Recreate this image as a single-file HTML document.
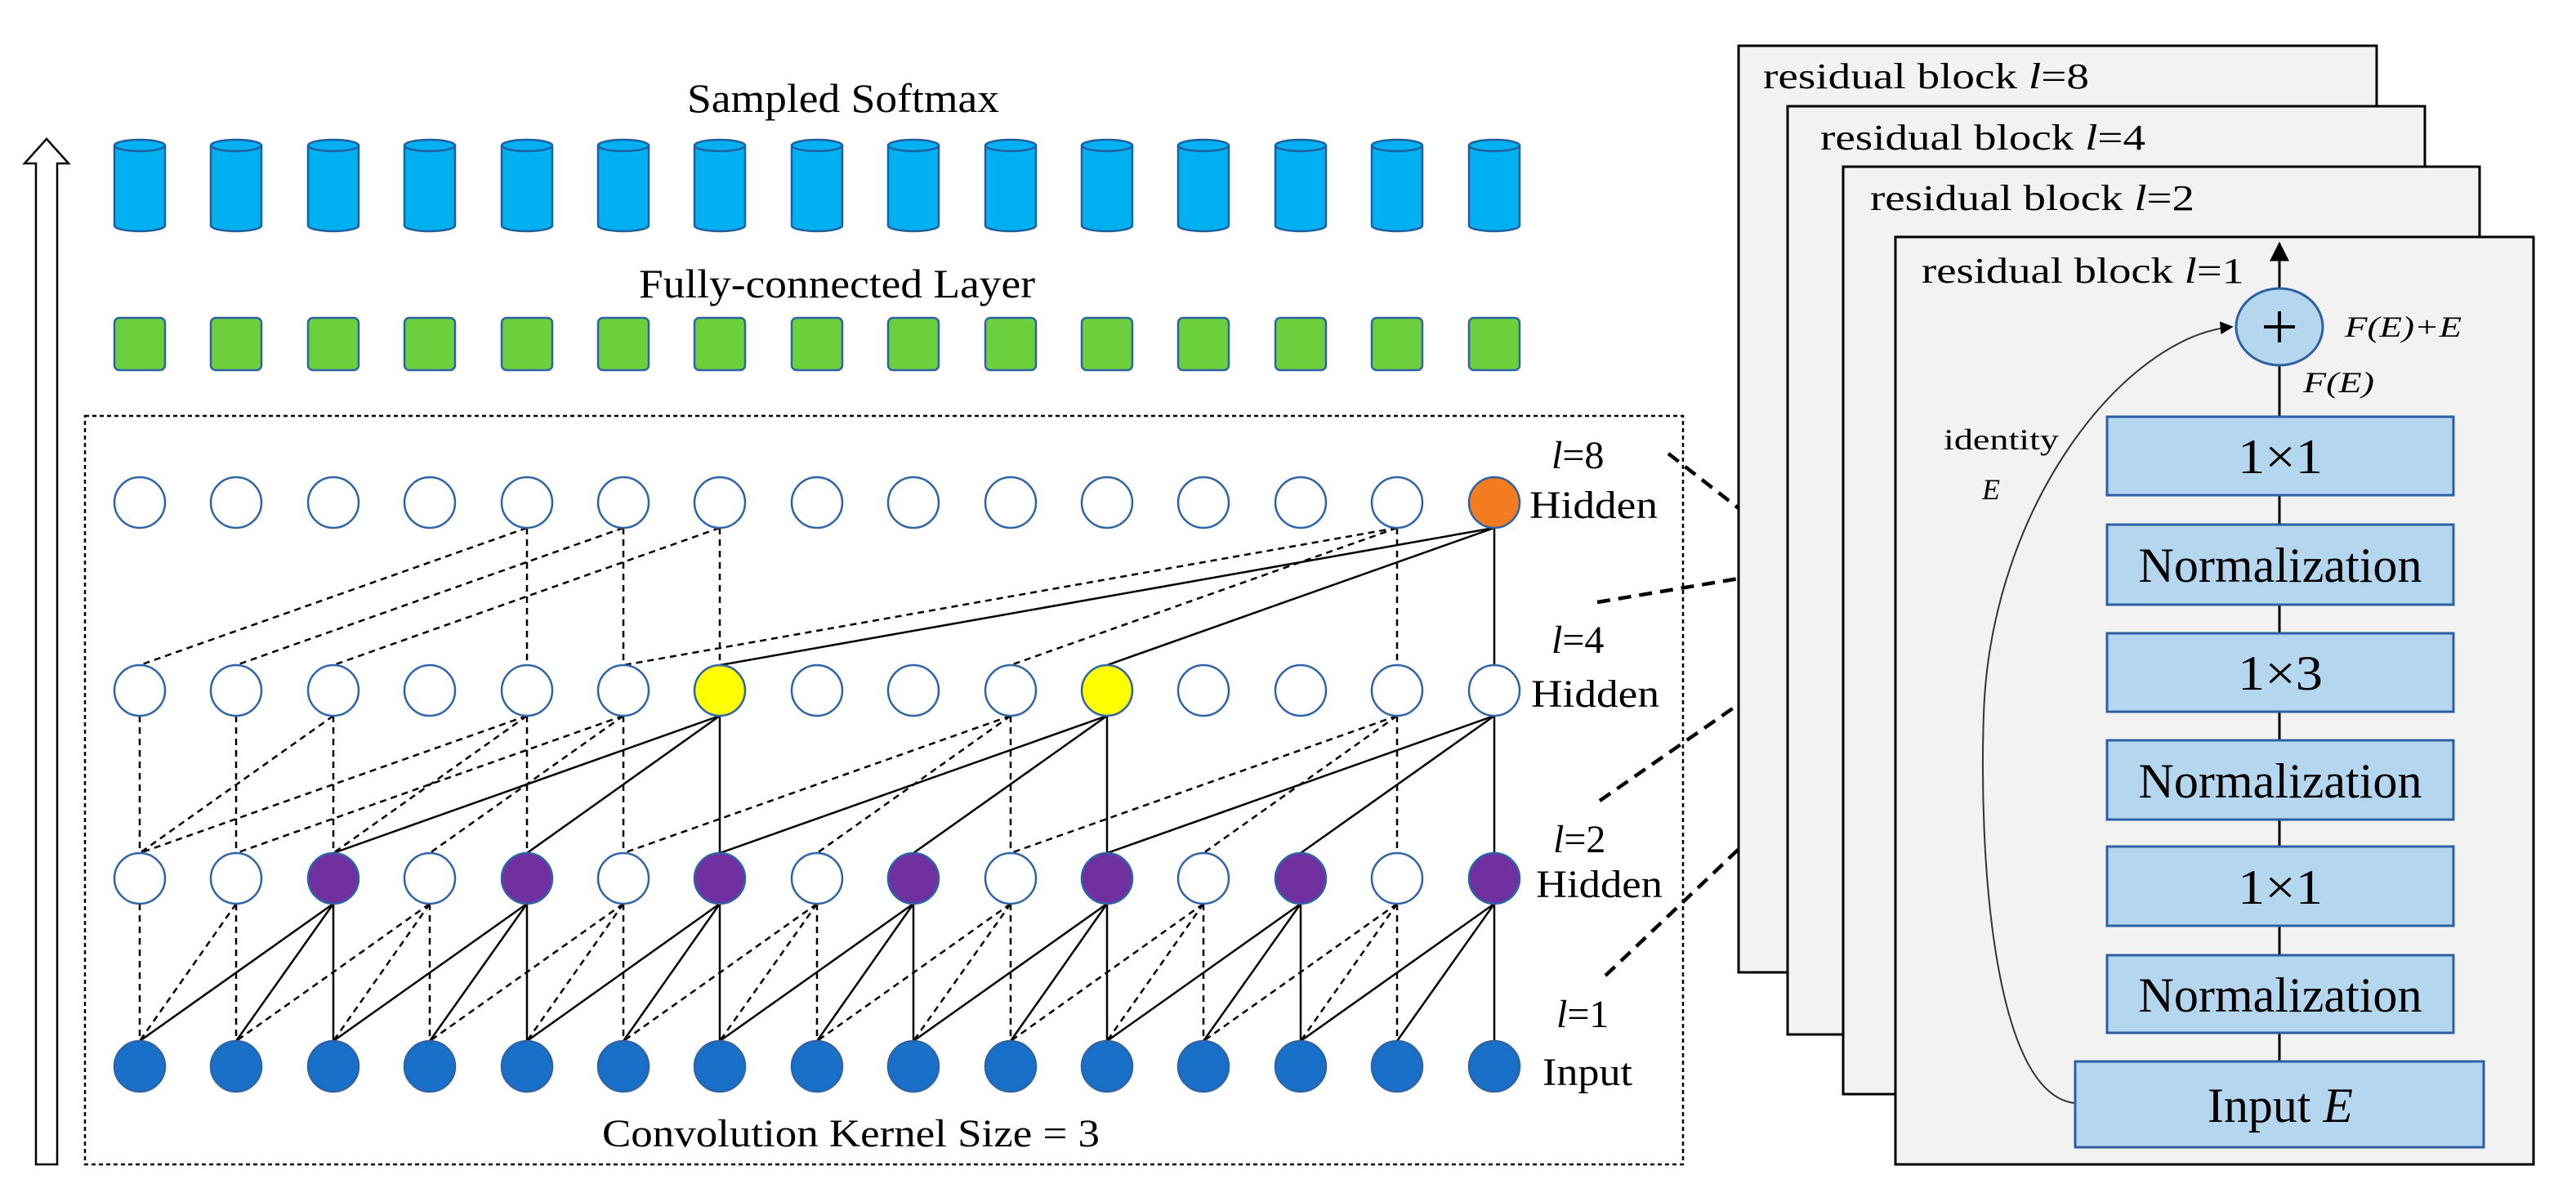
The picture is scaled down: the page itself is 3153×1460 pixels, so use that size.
<!DOCTYPE html>
<html><head><meta charset="utf-8"><style>html,body{margin:0;padding:0;background:#fff}svg{display:block}text{font-family:"Liberation Serif","DejaVu Serif",serif}</style></head>
<body>
<svg width="3153" height="1460" viewBox="0 0 3153 1460" xmlns="http://www.w3.org/2000/svg" style="font-family:'Liberation Serif',serif">
<defs>
<g id="cyl"><path d="M-31 6 L-31 104 A31 7 0 0 0 31 104 L31 6" fill="#00b0f0" stroke="#1f5fa0" stroke-width="2.5"/><ellipse cx="0" cy="6" rx="31" ry="7" fill="#00b0f0" stroke="#1f5fa0" stroke-width="2.5"/></g>
<g id="sq"><rect x="-31" y="0" width="62" height="64" rx="6" fill="#6ccf3c" stroke="#2e63a8" stroke-width="2.5"/></g>
<marker id="ah" viewBox="0 0 10 10" refX="9" refY="5" markerWidth="8" markerHeight="8" orient="auto"><path d="M0 0L10 5L0 10z" fill="#000"/></marker>
</defs>

<path d="M44 1425 L44 200 L30 200 L57 170 L84 200 L70 200 L70 1425 Z" fill="#fff" stroke="#000" stroke-width="2.5"/>

<text x="841" y="137" font-size="50" textLength="382" lengthAdjust="spacingAndGlyphs">Sampled Softmax</text>
<text x="782" y="364" font-size="50" textLength="485" lengthAdjust="spacingAndGlyphs">Fully-connected Layer</text>

<g transform="translate(0,172)">
<use href="#cyl" x="171"/><use href="#cyl" x="289"/><use href="#cyl" x="408"/><use href="#cyl" x="526"/><use href="#cyl" x="645"/><use href="#cyl" x="763"/><use href="#cyl" x="881"/><use href="#cyl" x="1000"/><use href="#cyl" x="1118"/><use href="#cyl" x="1237"/><use href="#cyl" x="1355"/><use href="#cyl" x="1473"/><use href="#cyl" x="1592"/><use href="#cyl" x="1710"/><use href="#cyl" x="1829"/>
</g>
<g transform="translate(0,389)">
<use href="#sq" x="171"/><use href="#sq" x="289"/><use href="#sq" x="408"/><use href="#sq" x="526"/><use href="#sq" x="645"/><use href="#sq" x="763"/><use href="#sq" x="881"/><use href="#sq" x="1000"/><use href="#sq" x="1118"/><use href="#sq" x="1237"/><use href="#sq" x="1355"/><use href="#sq" x="1473"/><use href="#sq" x="1592"/><use href="#sq" x="1710"/><use href="#sq" x="1829"/>
</g>

<rect x="104" y="509" width="1956" height="916" fill="none" stroke="#000" stroke-width="2.5" stroke-dasharray="5,4"/>

<g stroke="#000" stroke-width="2.5" fill="none">
<path d="M408 1106L171 1274M408 1106L289 1274M408 1106L408 1274
M645 1106L408 1274M645 1106L526 1274M645 1106L645 1274
M881 1106L645 1274M881 1106L763 1274M881 1106L881 1274
M1118 1106L881 1274M1118 1106L1000 1274M1118 1106L1118 1274
M1355 1106L1118 1274M1355 1106L1237 1274M1355 1106L1355 1274
M1592 1106L1355 1274M1592 1106L1473 1274M1592 1106L1592 1274
M1829 1106L1592 1274M1829 1106L1710 1274M1829 1106L1829 1274
M881 876L408 1044M881 876L645 1044M881 876L881 1044
M1355 876L881 1044M1355 876L1118 1044M1355 876L1355 1044
M1829 876L1355 1044M1829 876L1592 1044M1829 876L1829 1044
M1829 646L881 814M1829 646L1355 814M1829 646L1829 814"/>
<path stroke-dasharray="8,6" d="M171 1106L171 1274
M289 1106L171 1274M289 1106L289 1274
M526 1106L289 1274M526 1106L408 1274M526 1106L526 1274
M763 1106L526 1274M763 1106L645 1274M763 1106L763 1274
M1000 1106L763 1274M1000 1106L881 1274M1000 1106L1000 1274
M1237 1106L1000 1274M1237 1106L1118 1274M1237 1106L1237 1274
M1473 1106L1237 1274M1473 1106L1355 1274M1473 1106L1473 1274
M1710 1106L1473 1274M1710 1106L1592 1274M1710 1106L1710 1274
M171 876L171 1044M289 876L289 1044
M408 876L171 1044M408 876L408 1044
M645 876L171 1044M645 876L408 1044M645 876L645 1044
M763 876L289 1044M763 876L526 1044M763 876L763 1044
M1237 876L763 1044M1237 876L1000 1044M1237 876L1237 1044
M1710 876L1237 1044M1710 876L1473 1044M1710 876L1710 1044
M645 646L171 814M645 646L645 814
M763 646L289 814M763 646L763 814
M881 646L408 814M881 646L881 814
M1710 646L763 814M1710 646L1237 814M1710 646L1710 814"/>
</g>

<g stroke="#2e63a8" stroke-width="2.5">
<g fill="#fff">
<circle cx="171" cy="615" r="31"/><circle cx="289" cy="615" r="31"/><circle cx="408" cy="615" r="31"/><circle cx="526" cy="615" r="31"/><circle cx="645" cy="615" r="31"/><circle cx="763" cy="615" r="31"/><circle cx="881" cy="615" r="31"/><circle cx="1000" cy="615" r="31"/><circle cx="1118" cy="615" r="31"/><circle cx="1237" cy="615" r="31"/><circle cx="1355" cy="615" r="31"/><circle cx="1473" cy="615" r="31"/><circle cx="1592" cy="615" r="31"/><circle cx="1710" cy="615" r="31"/>
<circle cx="171" cy="845" r="31"/><circle cx="289" cy="845" r="31"/><circle cx="408" cy="845" r="31"/><circle cx="526" cy="845" r="31"/><circle cx="645" cy="845" r="31"/><circle cx="763" cy="845" r="31"/><circle cx="1000" cy="845" r="31"/><circle cx="1118" cy="845" r="31"/><circle cx="1237" cy="845" r="31"/><circle cx="1473" cy="845" r="31"/><circle cx="1592" cy="845" r="31"/><circle cx="1710" cy="845" r="31"/><circle cx="1829" cy="845" r="31"/>
<circle cx="171" cy="1075" r="31"/><circle cx="289" cy="1075" r="31"/><circle cx="526" cy="1075" r="31"/><circle cx="763" cy="1075" r="31"/><circle cx="1000" cy="1075" r="31"/><circle cx="1237" cy="1075" r="31"/><circle cx="1473" cy="1075" r="31"/><circle cx="1710" cy="1075" r="31"/>
</g>
<circle cx="1829" cy="615" r="31" fill="#f47c20"/>
<circle cx="881" cy="845" r="31" fill="#ffff00"/><circle cx="1355" cy="845" r="31" fill="#ffff00"/>
<g fill="#7030a0">
<circle cx="408" cy="1075" r="31"/><circle cx="645" cy="1075" r="31"/><circle cx="881" cy="1075" r="31"/><circle cx="1118" cy="1075" r="31"/><circle cx="1355" cy="1075" r="31"/><circle cx="1592" cy="1075" r="31"/><circle cx="1829" cy="1075" r="31"/>
</g>
<g fill="#1870c8">
<circle cx="171" cy="1305" r="31"/><circle cx="289" cy="1305" r="31"/><circle cx="408" cy="1305" r="31"/><circle cx="526" cy="1305" r="31"/><circle cx="645" cy="1305" r="31"/><circle cx="763" cy="1305" r="31"/><circle cx="881" cy="1305" r="31"/><circle cx="1000" cy="1305" r="31"/><circle cx="1118" cy="1305" r="31"/><circle cx="1237" cy="1305" r="31"/><circle cx="1355" cy="1305" r="31"/><circle cx="1473" cy="1305" r="31"/><circle cx="1592" cy="1305" r="31"/><circle cx="1710" cy="1305" r="31"/><circle cx="1829" cy="1305" r="31"/>
</g>
</g>

<g font-size="48">
<text x="1899" y="573"><tspan font-style="italic">l</tspan>=8</text>
<text x="1872" y="634" textLength="157" lengthAdjust="spacingAndGlyphs">Hidden</text>
<text x="1899" y="799"><tspan font-style="italic">l</tspan>=4</text>
<text x="1874" y="865" textLength="157" lengthAdjust="spacingAndGlyphs">Hidden</text>
<text x="1901" y="1043"><tspan font-style="italic">l</tspan>=2</text>
<text x="1880" y="1098" textLength="155" lengthAdjust="spacingAndGlyphs">Hidden</text>
<text x="1905" y="1257"><tspan font-style="italic">l</tspan>=1</text>
<text x="1888" y="1328" textLength="110" lengthAdjust="spacingAndGlyphs">Input</text>
</g>
<text x="737" y="1403" font-size="48" textLength="609" lengthAdjust="spacingAndGlyphs">Convolution Kernel Size = 3</text>

<g stroke="#000" stroke-width="4.5" stroke-dasharray="16,10" fill="none">
<path d="M2042 555L2128 622"/>
<path d="M1955 737L2188 698"/>
<path d="M1958 980L2256 773"/>
<path d="M1965 1194L2320 857"/>
</g>

<g fill="#f2f2f2" stroke="#000" stroke-width="3">
<rect x="2128" y="56" width="781" height="1134"/>
<rect x="2188" y="130" width="780" height="1136"/>
<rect x="2256" y="204" width="779" height="1135"/>
<rect x="2320" y="290" width="781" height="1135"/>
</g>
<g font-size="44">
<text x="2158" y="108" textLength="399" lengthAdjust="spacingAndGlyphs">residual block  <tspan font-style="italic">l</tspan>=8</text>
<text x="2228" y="183" textLength="398" lengthAdjust="spacingAndGlyphs">residual block  <tspan font-style="italic">l</tspan>=4</text>
<text x="2289" y="257" textLength="397" lengthAdjust="spacingAndGlyphs">residual block  <tspan font-style="italic">l</tspan>=2</text>
<text x="2352" y="346" textLength="395" lengthAdjust="spacingAndGlyphs">residual block  <tspan font-style="italic">l</tspan>=1</text>
</g>

<line x1="2790" y1="1299" x2="2790" y2="447" stroke="#000" stroke-width="3"/>
<line x1="2790" y1="353" x2="2790" y2="298" stroke="#000" stroke-width="3" marker-end="url(#ah)"/>
<path d="M2540 1350 C2440 1340 2422 1050 2428 875 C2436 620 2600 412 2732 400" fill="none" stroke="#333" stroke-width="2" marker-end="url(#ah)"/>
<ellipse cx="2790" cy="400" rx="53" ry="47" fill="#b4d7ef" stroke="#2e5fa3" stroke-width="3"/>
<path d="M2771 400H2809M2790 381V419" stroke="#000" stroke-width="4"/>
<g font-size="36" font-style="italic">
<text x="2870" y="412" textLength="143" lengthAdjust="spacingAndGlyphs">F(E)+E</text>
<text x="2819" y="480" textLength="87" lengthAdjust="spacingAndGlyphs">F(E)</text>
<text x="2426" y="611">E</text>
</g>
<text x="2379" y="550" font-size="36" textLength="141" lengthAdjust="spacingAndGlyphs">identity</text>

<g fill="#b4d7ef" stroke="#2e5fa3" stroke-width="3">
<rect x="2579" y="510" width="424" height="96"/>
<rect x="2579" y="642" width="424" height="98"/>
<rect x="2579" y="775" width="424" height="96"/>
<rect x="2579" y="906" width="424" height="97"/>
<rect x="2579" y="1036" width="424" height="97"/>
<rect x="2579" y="1169" width="424" height="95"/>
<rect x="2540" y="1299" width="500" height="105"/>
</g>
<g font-size="60" text-anchor="middle">
<text x="2791" y="579" textLength="104" lengthAdjust="spacingAndGlyphs">1×1</text>
<text x="2791" y="712" textLength="347" lengthAdjust="spacingAndGlyphs">Normalization</text>
<text x="2791" y="844" textLength="104" lengthAdjust="spacingAndGlyphs">1×3</text>
<text x="2791" y="976" textLength="347" lengthAdjust="spacingAndGlyphs">Normalization</text>
<text x="2791" y="1106" textLength="104" lengthAdjust="spacingAndGlyphs">1×1</text>
<text x="2791" y="1238" textLength="347" lengthAdjust="spacingAndGlyphs">Normalization</text>
<text x="2791" y="1373" textLength="178" lengthAdjust="spacingAndGlyphs">Input <tspan font-style="italic">E</tspan></text>
</g>
</svg>
</body></html>
